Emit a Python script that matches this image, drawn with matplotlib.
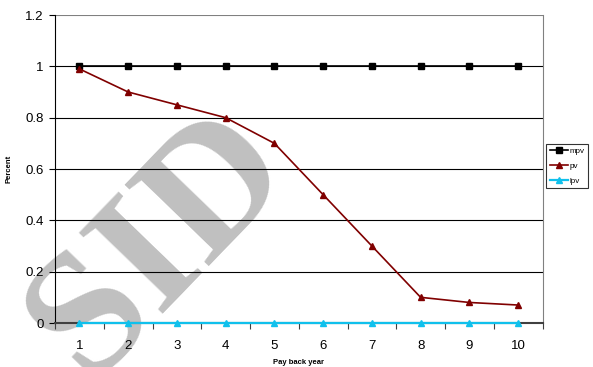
import numpy as np
import matplotlib.pyplot as plt

plt.rcParams['font.family'] = ['Liberation Sans', 'DejaVu Sans']

years = [1, 2, 3, 4, 5, 6, 7, 8, 9, 10]
mpv = [1, 1, 1, 1, 1, 1, 1, 1, 1, 1]
pv = [0.99, 0.9, 0.85, 0.8, 0.7, 0.5, 0.3, 0.1, 0.08, 0.07]
lpv = [0, 0, 0, 0, 0, 0, 0, 0, 0, 0]
yticks = [0, 0.2, 0.4, 0.6, 0.8, 1, 1.2]
ylabels = ['0', '0.2', '0.4', '0.6', '0.8', '1', '1.2']

fig = plt.figure(figsize=(5.93, 3.67), dpi=100)
ax = fig.add_axes([55/593, 44/367, 487.5/593, 308/367])
ax.patch.set_alpha(0)

# grey watermark behind the plot
fig.text(160/593, 1 - 245/367, 'SID', fontsize=128, fontweight='bold',
         family='Liberation Serif', color='#c0c0c0', rotation=46,
         rotation_mode='anchor', ha='center', va='center', zorder=-1)

for y in yticks[1:-1]:
    ax.axhline(y, color='black', lw=0.8, zorder=1)
ax.axhline(1.2, color='#808080', lw=0.8, zorder=1)

ax.plot(years, mpv, color='black', marker='s', ms=5, lw=1.2, label='mpv', zorder=3)
ax.plot(years, pv, color='#800000', marker='^', ms=5, lw=1.2, label='pv', zorder=3)
ax.plot(years, lpv, color='#10c0ec', marker='^', ms=5, lw=1.6, label='lpv',
        zorder=4, clip_on=False)

ax.set_xlim(0.5, 10.5)
ax.set_ylim(0, 1.2)
ax.set_yticks(yticks)
ax.set_yticklabels(ylabels, fontsize=9.5)
ax.set_xticks(np.arange(0.5, 11, 1))
ax.set_xticklabels([])
ax.set_xticks(years, minor=True)
ax.set_xticklabels([str(v) for v in years], minor=True, fontsize=9.5)
ax.tick_params(axis='x', which='major', direction='out', length=4, width=0.8, color='#404040')
ax.tick_params(axis='x', which='minor', length=0, pad=12)
ax.tick_params(axis='y', direction='out', length=4, width=0.8, pad=4)

ax.spines['top'].set_visible(False)
ax.spines['right'].set_color('#808080')
ax.spines['bottom'].set_color('#404040')
ax.spines['bottom'].set_linewidth(1.5)
ax.spines['left'].set_color('black')
ax.spines['left'].set_linewidth(0.8)

ax.set_xlabel('Pay back year', fontsize=5.5, fontweight='bold', labelpad=5)
ax.set_ylabel('Percent', fontsize=5.5, fontweight='bold', labelpad=9)

leg = ax.legend(loc='center left', bbox_to_anchor=(1.008, 0.51), fontsize=5.8,
                frameon=True, fancybox=False, edgecolor='black', handlelength=2.2,
                handletextpad=0.2, borderpad=0.45, labelspacing=0.9, markerscale=0.9,
                borderaxespad=0)
leg.get_frame().set_linewidth(0.8)

fig.savefig('out.png', dpi=100)
